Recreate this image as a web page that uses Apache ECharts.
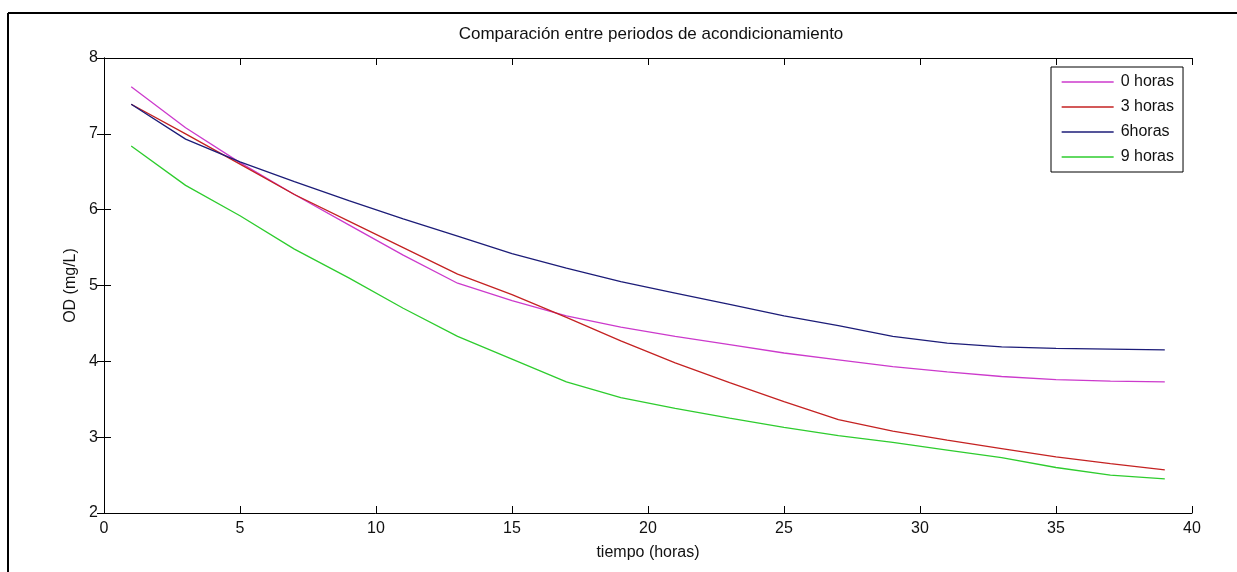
<!DOCTYPE html>
<html>
<head>
<meta charset="utf-8">
<title>Comparación entre periodos de acondicionamiento</title>
<script src="https://cdn.jsdelivr.net/npm/echarts@6/dist/echarts.min.js"></script>
<style>
  html, body { margin: 0; padding: 0; background: #fff; }
  #chart { width: 1237px; height: 572px; }
</style>
</head>
<body>
<div id="chart"></div>
<script>
// Measurement times (hours)
const tiempo = [1, 3, 5, 7, 9, 11, 13, 15, 17, 19, 21, 23, 25, 27, 29, 31, 33, 35, 37, 39];

// Dissolved oxygen (mg/L) for each conditioning period
const od0h = [7.62, 7.08, 6.62, 6.20, 5.80, 5.40, 5.03, 4.80, 4.60, 4.45, 4.33, 4.22, 4.11, 4.02, 3.93, 3.86, 3.80, 3.76, 3.74, 3.73];
const od3h = [7.39, 7.00, 6.60, 6.20, 5.85, 5.50, 5.15, 4.88, 4.58, 4.27, 3.98, 3.72, 3.47, 3.23, 3.08, 2.96, 2.85, 2.74, 2.65, 2.57];
const od6h = [7.39, 6.93, 6.63, 6.37, 6.12, 5.88, 5.65, 5.42, 5.23, 5.05, 4.90, 4.75, 4.60, 4.47, 4.33, 4.24, 4.19, 4.17, 4.16, 4.15];
const od9h = [6.84, 6.32, 5.92, 5.48, 5.10, 4.70, 4.33, 4.03, 3.73, 3.52, 3.38, 3.25, 3.13, 3.02, 2.93, 2.83, 2.73, 2.60, 2.50, 2.45];

const seriesNames = ['0 horas', '3 horas', '6horas', '9 horas'];
const seriesColors = ['#cc3acc', '#c42222', '#1c1c78', '#2ecc2e'];

const FONT = '"Liberation Sans", Arial, sans-serif';

function pairs(ys) { return tiempo.map((t, i) => [t, ys[i]]); }

const chart = echarts.init(document.getElementById('chart'), null, { renderer: 'canvas' });

const boxAxis = {
  axisLine: { show: true, lineStyle: { color: '#000', width: 1 } },
  axisTick: { show: true, inside: true, length: 7, lineStyle: { color: '#000' } },
  splitLine: { show: false }
};

chart.setOption({
  animation: false,
  backgroundColor: '#fff',
  textStyle: { fontFamily: FONT },
  title: {
    text: 'Comparación entre periodos de acondicionamiento',
    left: 646, textAlign: 'center', top: 21,
    textStyle: { fontFamily: FONT, fontSize: 17, fontWeight: 'normal', color: '#111' }
  },
  grid: { left: 104, top: 58, right: 45, bottom: 59 },
  legend: {
    orient: 'vertical',
    left: 1051, top: 67,
    data: seriesNames,
    itemWidth: 52, itemHeight: 14, itemGap: 9,
    padding: [7, 9, 7, 10],
    borderColor: '#000', borderWidth: 1,
    backgroundColor: '#fff',
    itemStyle: { opacity: 0 },
    lineStyle: { width: 1.3 },
    textStyle: { fontFamily: FONT, fontSize: 16, color: '#111', padding: [0, 0, 0, 2] }
  },
  xAxis: [
    Object.assign({
      type: 'value', min: 0, max: 40, interval: 5,
      name: 'tiempo (horas)', nameLocation: 'middle', nameGap: 32,
      nameTextStyle: { fontFamily: FONT, fontSize: 16, color: '#111' },
      axisLabel: { fontFamily: FONT, fontSize: 16, color: '#111', margin: 8 }
    }, boxAxis),
    Object.assign({
      type: 'value', min: 0, max: 40, interval: 5, position: 'top',
      axisLabel: { show: false }
    }, boxAxis)
  ],
  yAxis: [
    Object.assign({
      type: 'value', min: 2, max: 8, interval: 1,
      name: 'OD (mg/L)', nameLocation: 'middle', nameGap: 21,
      nameTextStyle: { fontFamily: FONT, fontSize: 16, color: '#111' },
      axisLabel: { fontFamily: FONT, fontSize: 16, color: '#111', margin: 6 }
    }, boxAxis),
    Object.assign({
      type: 'value', min: 2, max: 8, interval: 1, position: 'right',
      axisLabel: { show: false }
    }, boxAxis)
  ],
  series: [od0h, od3h, od6h, od9h].map((ys, i) => ({
    name: seriesNames[i],
    type: 'line',
    data: pairs(ys),
    symbol: 'none',
    color: seriesColors[i],
    lineStyle: { width: 1.3, color: seriesColors[i] },
    z: 2
  })),
  graphic: [
    { type: 'line', shape: { x1: 8, y1: 13, x2: 1237, y2: 13 }, style: { stroke: '#000', lineWidth: 2 } },
    { type: 'line', shape: { x1: 8, y1: 13, x2: 8, y2: 572 }, style: { stroke: '#000', lineWidth: 2 } }
  ]
});
</script>
</body>
</html>
